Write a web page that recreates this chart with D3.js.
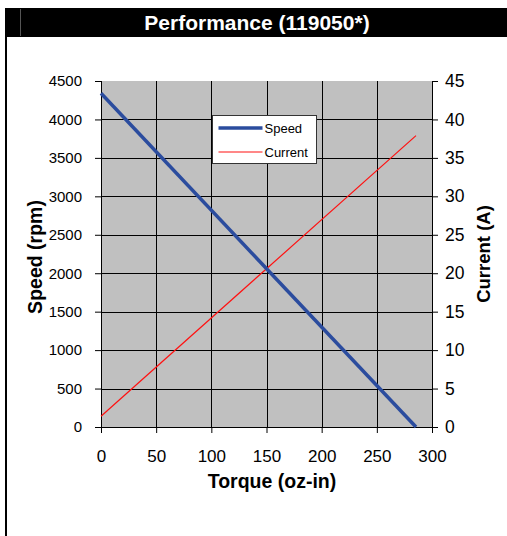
<!DOCTYPE html>
<html lang="en">
  <head>
    <meta charset="utf-8">
    <title>Performance (119050*)</title>
    <script src="https://cdn.jsdelivr.net/npm/d3@7"></script>
    <style type="text/css">
      body { margin: 0; background: #fff; }
      text { font-family: Arial, "Liberation Sans", sans-serif; fill: #000; }
    </style>
  </head>
  <body>
    <script type="text/javascript">

      // Data
      var torque = [0, 285.5];
      var speed = [4340, 0];
      var current = [1.4, 37.9];
      var xTicks = [0, 50, 100, 150, 200, 250, 300];
      var speedTicks = [0, 500, 1000, 1500, 2000, 2500, 3000, 3500, 4000, 4500];
      var currentTicks = [0, 5, 10, 15, 20, 25, 30, 35, 40, 45];

      var w = 507, h = 536;
      var plotLeft = 101, plotRight = 432, plotTop = 81, plotBottom = 427;

      var svg = d3.select("body").append("svg")
            .attr("width", w)
            .attr("height", h);

      // Title bar and frame
      svg.append("rect").attr("x", 5).attr("y", 8).attr("width", w - 5).attr("height", 29).attr("fill", "#000");
      svg.append("line").attr("x1", 20.5).attr("x2", 20.5).attr("y1", 9).attr("y2", 36)
         .attr("stroke", "#555").attr("stroke-width", 1);
      svg.append("text").attr("x", 257).attr("y", 30).attr("text-anchor", "middle")
         .style("fill", "#fff").attr("font-size", 21).attr("font-weight", "bold")
         .text("Performance (119050*)");
      svg.append("line").attr("x1", 6).attr("x2", 6).attr("y1", 37).attr("y2", h)
         .attr("stroke", "#000").attr("stroke-width", 2);

      //Scales
      var xScale = d3.scaleLinear().domain([0, 300]).range([plotLeft, plotRight]);
      var ySpeed = d3.scaleLinear().domain([0, 4500]).range([plotBottom, plotTop]);
      var yCurrent = d3.scaleLinear().domain([0, 45]).range([plotBottom, plotTop]);

      // Plot background
      svg.append("rect").attr("x", plotLeft).attr("y", plotTop)
         .attr("width", plotRight - plotLeft).attr("height", plotBottom - plotTop).attr("fill", "#c0c0c0");

      // Grid
      svg.append("g").selectAll("line").data(speedTicks.slice(1, -1)).enter().append("line")
         .attr("x1", plotLeft).attr("x2", plotRight)
         .attr("y1", function(d) { return Math.round(ySpeed(d)) + 0.5; })
         .attr("y2", function(d) { return Math.round(ySpeed(d)) + 0.5; })
         .attr("stroke", "#000").attr("stroke-width", 1);
      svg.append("g").selectAll("line").data(xTicks.slice(1, -1)).enter().append("line")
         .attr("x1", function(d) { return Math.round(xScale(d)) + 0.5; })
         .attr("x2", function(d) { return Math.round(xScale(d)) + 0.5; })
         .attr("y1", plotTop).attr("y2", plotBottom)
         .attr("stroke", "#000").attr("stroke-width", 1);

      //Axes
      var xAxis = d3.axisBottom(xScale).tickValues(xTicks).tickSize(6).tickPadding(17);
      var yAxisL = d3.axisLeft(ySpeed).tickValues(speedTicks).tickSize(6).tickPadding(13).tickFormat(d3.format("d"));
      var yAxisR = d3.axisRight(yCurrent).tickValues(currentTicks).tickSize(6).tickPadding(7);

      function styleAxis(g, size) {
        g.selectAll("path, line").attr("stroke", "#000");
        g.selectAll("text").attr("font-size", size).attr("font-family", "Arial, 'Liberation Sans', sans-serif");
      }

      svg.append("g").attr("transform", "translate(0," + plotBottom + ")").call(xAxis).call(styleAxis, 17)
         .select(".domain").attr("d", "M" + plotLeft + ",0.5H" + plotRight);
      svg.append("g").attr("transform", "translate(" + plotLeft + ",0)").call(yAxisL).call(styleAxis, 15)
         .select(".domain").attr("d", "M0.5," + plotTop + "V" + plotBottom);
      svg.append("g").attr("transform", "translate(" + plotRight + ",0)").call(yAxisR).call(styleAxis, 17.5)
         .select(".domain").attr("d", "M0.5," + plotTop + "V" + plotBottom);

      // Lines
      var speedLine = d3.line().x(function(d, i) { return xScale(torque[i]); }).y(function(d) { return ySpeed(d); });
      var currentLine = d3.line().x(function(d, i) { return xScale(torque[i]); }).y(function(d) { return yCurrent(d); });

      svg.append("path").datum(current).attr("d", currentLine)
         .attr("fill", "none").attr("stroke", "#ff1010").attr("stroke-width", 1.2);
      svg.append("path").datum(speed).attr("d", speedLine)
         .attr("fill", "none").attr("stroke", "#2b4c9e").attr("stroke-width", 3.5);

      // Legend
      var legend = svg.append("g").attr("transform", "translate(212.5,115.5)");
      legend.append("rect").attr("width", 104).attr("height", 48)
         .attr("fill", "#fff").attr("stroke", "#333").attr("stroke-width", 1);
      var items = [
        {name: "Speed", color: "#2b4c9e", width: 3.5},
        {name: "Current", color: "#ff1010", width: 1.2}
      ];
      var row = legend.selectAll("g.item").data(items).enter().append("g")
         .attr("transform", function(d, i) { return "translate(0," + (12.5 + i * 24) + ")"; });
      row.append("line").attr("x1", 6).attr("x2", 50).attr("stroke", function(d) { return d.color; })
         .attr("stroke-width", function(d) { return d.width; });
      row.append("text").attr("x", 52).attr("y", 4.5).attr("font-size", 13).text(function(d) { return d.name; });

      // Axis titles
      svg.append("text").attr("x", 272).attr("y", 488).attr("text-anchor", "middle")
         .attr("font-size", 19.5).attr("font-weight", "bold").text("Torque (oz-in)");
      svg.append("text").attr("transform", "translate(42,257) rotate(-90)")
         .attr("text-anchor", "middle").attr("font-size", 19.5).attr("font-weight", "bold").text("Speed (rpm)");
      svg.append("text").attr("transform", "translate(490,254) rotate(-90)")
         .attr("text-anchor", "middle").attr("font-size", 18.5).attr("font-weight", "bold").text("Current (A)");

    </script>
  </body>
</html>
